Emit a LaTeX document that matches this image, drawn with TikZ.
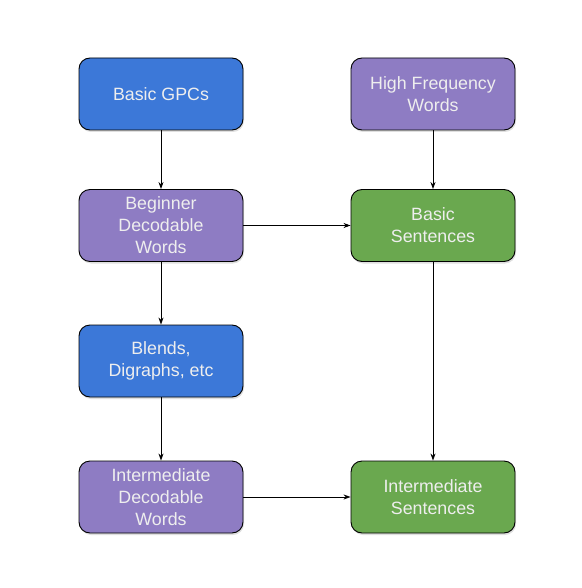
\documentclass[tikz,border=0pt]{standalone}
\usepackage{fontspec}
\setmainfont{Liberation Sans}
\usetikzlibrary{arrows.meta,shadows}
\definecolor{gblue}{HTML}{3C78D8}
\definecolor{gpurple}{HTML}{8E7CC3}
\definecolor{ggreen}{HTML}{6AA84F}
\definecolor{gtext}{HTML}{EEEEEE}
\tikzset{
  box/.style={draw=black, line width=0.9pt, rounded corners=11pt,
    minimum width=164pt, minimum height=72pt, align=center,
    text=gtext, font=\fontsize{17.8}{22}\selectfont,
    drop shadow={shadow xshift=1pt, shadow yshift=-2pt, opacity=0.25}},
  bluebox/.style={box, fill=gblue},
  purplebox/.style={box, fill=gpurple},
  greenbox/.style={box, fill=ggreen},
  conn/.style={draw=black, line width=0.8pt, -{Stealth[length=7pt,width=5pt]}}
}
\begin{document}
\begin{tikzpicture}[x=1pt,y=-1pt]
\useasboundingbox (0,0) rectangle (581,588);
\node[bluebox] (gpc) at (161,94) {Basic GPCs};
\node[purplebox] (hfw) at (433,94) {High Frequency\\Words};
\node[purplebox] (bdw) at (161,225.5) {Beginner\\Decodable\\Words};
\node[greenbox] (bs) at (433,225.5) {Basic\\Sentences};
\node[bluebox] (bld) at (161,361) {Blends,\\Digraphs, etc};
\node[purplebox] (idw) at (161,497) {Intermediate\\Decodable\\Words};
\node[greenbox] (is) at (433,497) {Intermediate\\Sentences};
\draw[conn] (gpc) -- (bdw);
\draw[conn] (bdw) -- (bld);
\draw[conn] (bld) -- (idw);
\draw[conn] (hfw) -- (bs);
\draw[conn] (bs) -- (is);
\draw[conn] (bdw) -- (bs);
\draw[conn] (idw) -- (is);
\end{tikzpicture}
\end{document}
